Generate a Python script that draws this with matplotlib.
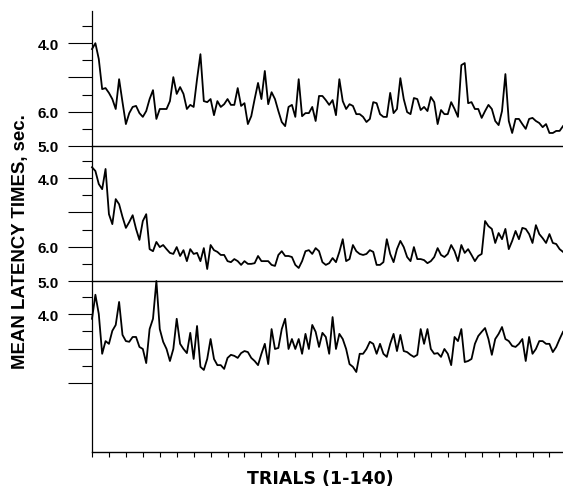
import numpy as np
import matplotlib
matplotlib.use("Agg")
import matplotlib.pyplot as plt

# Trials 1..140
trials = np.arange(1, 141)

# Panel values (units = major tick steps above each panel's baseline)
top_vals = [2.83, 3.00, 2.54, 1.66, 1.69, 1.55, 1.37, 1.08, 1.95, 1.28,
            0.64, 0.96, 1.14, 1.17, 0.96, 0.85, 1.02, 1.37, 1.63, 0.79,
            1.08, 1.08, 1.08, 1.31, 2.01, 1.52, 1.72, 1.52, 1.08, 1.20,
            1.14, 1.95, 2.68, 1.31, 1.28, 1.37, 0.90, 1.31, 1.14, 1.22,
            1.37, 1.20, 1.20, 1.69, 1.17, 1.25, 0.64, 0.87, 1.37, 1.84,
            1.37, 2.19, 1.22, 1.57, 1.37, 1.02, 0.70, 0.58, 1.14, 1.20,
            0.85, 1.95, 0.87, 0.96, 0.96, 1.14, 0.73, 1.46, 1.46, 1.34,
            1.20, 1.34, 0.90, 1.95, 1.31, 1.08, 1.22, 1.17, 0.93, 0.93,
            0.85, 0.70, 0.79, 1.28, 1.25, 0.93, 0.85, 0.85, 1.55, 0.96,
            1.08, 1.98, 1.37, 0.99, 0.93, 1.40, 1.37, 1.05, 1.14, 1.02,
            1.43, 1.28, 0.64, 1.05, 0.93, 0.93, 1.28, 1.08, 0.85, 2.36,
            2.42, 1.25, 1.28, 1.08, 1.08, 0.82, 1.02, 1.20, 1.08, 0.73,
            0.61, 1.02, 2.10, 0.73, 0.38, 0.79, 0.79, 0.64, 0.50, 0.79,
            0.82, 0.73, 0.67, 0.55, 0.64, 0.38, 0.38, 0.44, 0.44, 0.58]

mid_vals = [3.32, 3.21, 2.83, 2.68, 3.27, 1.95, 1.66, 2.39, 2.24, 1.87,
            1.55, 1.72, 1.92, 1.52, 1.20, 1.75, 1.95, 0.93, 0.87, 1.14,
            0.99, 1.05, 0.93, 0.82, 0.79, 0.99, 0.73, 0.90, 0.58, 0.93,
            0.79, 0.82, 0.58, 0.96, 0.35, 1.05, 0.90, 0.85, 0.76, 0.76,
            0.58, 0.55, 0.64, 0.58, 0.47, 0.58, 0.50, 0.50, 0.52, 0.73,
            0.58, 0.58, 0.58, 0.47, 0.44, 0.76, 0.87, 0.73, 0.73, 0.70,
            0.47, 0.38, 0.58, 0.87, 0.90, 0.79, 0.96, 0.87, 0.55, 0.47,
            0.52, 0.67, 0.55, 0.85, 1.22, 0.58, 0.64, 1.05, 0.87, 0.79,
            0.76, 0.79, 0.90, 0.85, 0.47, 0.47, 0.55, 1.22, 0.79, 0.55,
            0.93, 1.17, 0.99, 0.70, 0.58, 0.99, 0.64, 0.64, 0.61, 0.52,
            0.58, 0.70, 0.96, 0.76, 0.70, 0.79, 1.05, 0.87, 0.58, 1.05,
            0.82, 0.93, 0.76, 0.58, 0.73, 0.79, 1.75, 1.60, 1.52, 1.11,
            1.40, 1.22, 1.52, 0.93, 1.17, 1.46, 1.22, 1.55, 1.52, 1.37,
            1.11, 1.63, 1.37, 1.25, 1.11, 1.37, 1.11, 1.08, 0.93, 0.85]

bot_vals = [1.87, 2.57, 2.01, 0.85, 1.22, 1.14, 1.52, 1.69, 2.36, 1.40,
            1.22, 1.20, 1.34, 1.34, 1.05, 0.99, 0.58, 1.57, 1.87, 2.97,
            1.57, 1.20, 0.99, 0.64, 0.99, 1.87, 1.14, 0.99, 0.87, 1.46,
            0.70, 1.66, 0.47, 0.38, 0.70, 1.28, 0.70, 0.52, 0.52, 0.41,
            0.73, 0.82, 0.79, 0.73, 0.87, 0.93, 0.90, 0.73, 0.64, 0.52,
            0.85, 1.14, 0.55, 1.57, 0.99, 1.02, 1.57, 1.87, 0.99, 1.28,
            0.99, 1.28, 0.85, 1.43, 0.99, 1.69, 1.49, 1.05, 1.46, 1.34,
            0.85, 1.92, 0.99, 1.43, 1.28, 0.99, 0.55, 0.47, 0.32, 0.85,
            0.85, 0.99, 1.20, 1.14, 0.85, 1.14, 0.85, 0.76, 1.14, 1.43,
            0.93, 1.40, 0.93, 0.90, 0.82, 0.76, 0.82, 1.57, 1.14, 1.57,
            0.99, 0.85, 0.87, 0.76, 0.99, 0.85, 0.52, 1.34, 1.22, 1.57,
            0.61, 0.64, 0.70, 1.14, 1.37, 1.49, 1.60, 1.28, 0.82, 1.28,
            1.43, 1.63, 1.28, 1.22, 1.08, 1.05, 1.14, 1.28, 0.64, 1.34,
            0.85, 0.99, 1.22, 1.22, 1.14, 1.14, 0.90, 1.05, 1.28, 1.49]

# Tick labels
upper_major = [0, 1, 2, 3]
upper_labels = ["5.0", "6.0", "", "4.0"]
upper_minor = [0.5, 1.5, 2.5, 3.5]
lower_major = [0, 1, 2]
lower_labels = ["", "", "4.0"]
lower_minor = [0.5, 1.5, 2.5]
x_ticks = np.arange(1, 141, 5)

W, H = 563, 489
fig = plt.figure(figsize=(W / 100, H / 100), dpi=100)

left = 92 / W
width = (W - 92) / W
def rect(top_px, bot_px):
    return [left, 1 - bot_px / H, width, (bot_px - top_px) / H]

ax_top = fig.add_axes(rect(12, 147))
ax_mid = fig.add_axes(rect(147, 282))
ax_bot = fig.add_axes(rect(282, 453))

for ax, vals, ylim, maj, labs, mnr in [
        (ax_top, top_vals, (0, 3.94), upper_major, upper_labels, upper_minor),
        (ax_mid, mid_vals, (0, 3.94), upper_major, upper_labels, upper_minor),
        (ax_bot, bot_vals, (-2.01, 2.97), lower_major, lower_labels, lower_minor)]:
    ax.plot(trials, vals, color="black", lw=1.3, clip_on=False)
    ax.set_xlim(1, 140)
    ax.set_ylim(*ylim)
    ax.set_yticks(maj)
    ax.set_yticklabels(labs)
    ax.set_yticks(mnr, minor=True)
    for lbl in ax.get_yticklabels():
        lbl.set_fontfamily("Liberation Sans")
        lbl.set_fontweight("bold")
        lbl.set_fontsize(11)
    ax.tick_params(axis="y", which="major", direction="out", length=17, width=0.8, pad=7)
    ax.tick_params(axis="y", which="minor", direction="out", length=7, width=0.8)
    ax.spines["top"].set_visible(False)
    ax.spines["right"].set_visible(False)
    ax.spines["left"].set_linewidth(0.9)
    ax.spines["bottom"].set_linewidth(1.0)
    ax.patch.set_alpha(0)

for ax in (ax_top, ax_mid):
    ax.set_xticks([])

ax_bot.set_xticks(x_ticks)
ax_bot.set_xticklabels([])
ax_bot.tick_params(axis="x", direction="out", length=3.5, width=0.8)

fig.text(21 / W, 1 - 242 / H, "MEAN LATENCY TIMES, sec.", rotation=90,
         ha="center", va="center", family="Liberation Sans", weight="bold",
         size=13.4)
fig.text(320 / W, 1 - 479 / H, "TRIALS (1-140)", ha="center", va="center",
         family="DejaVu Sans", weight="bold", size=12.5)

fig.savefig("out.png", dpi=100)
